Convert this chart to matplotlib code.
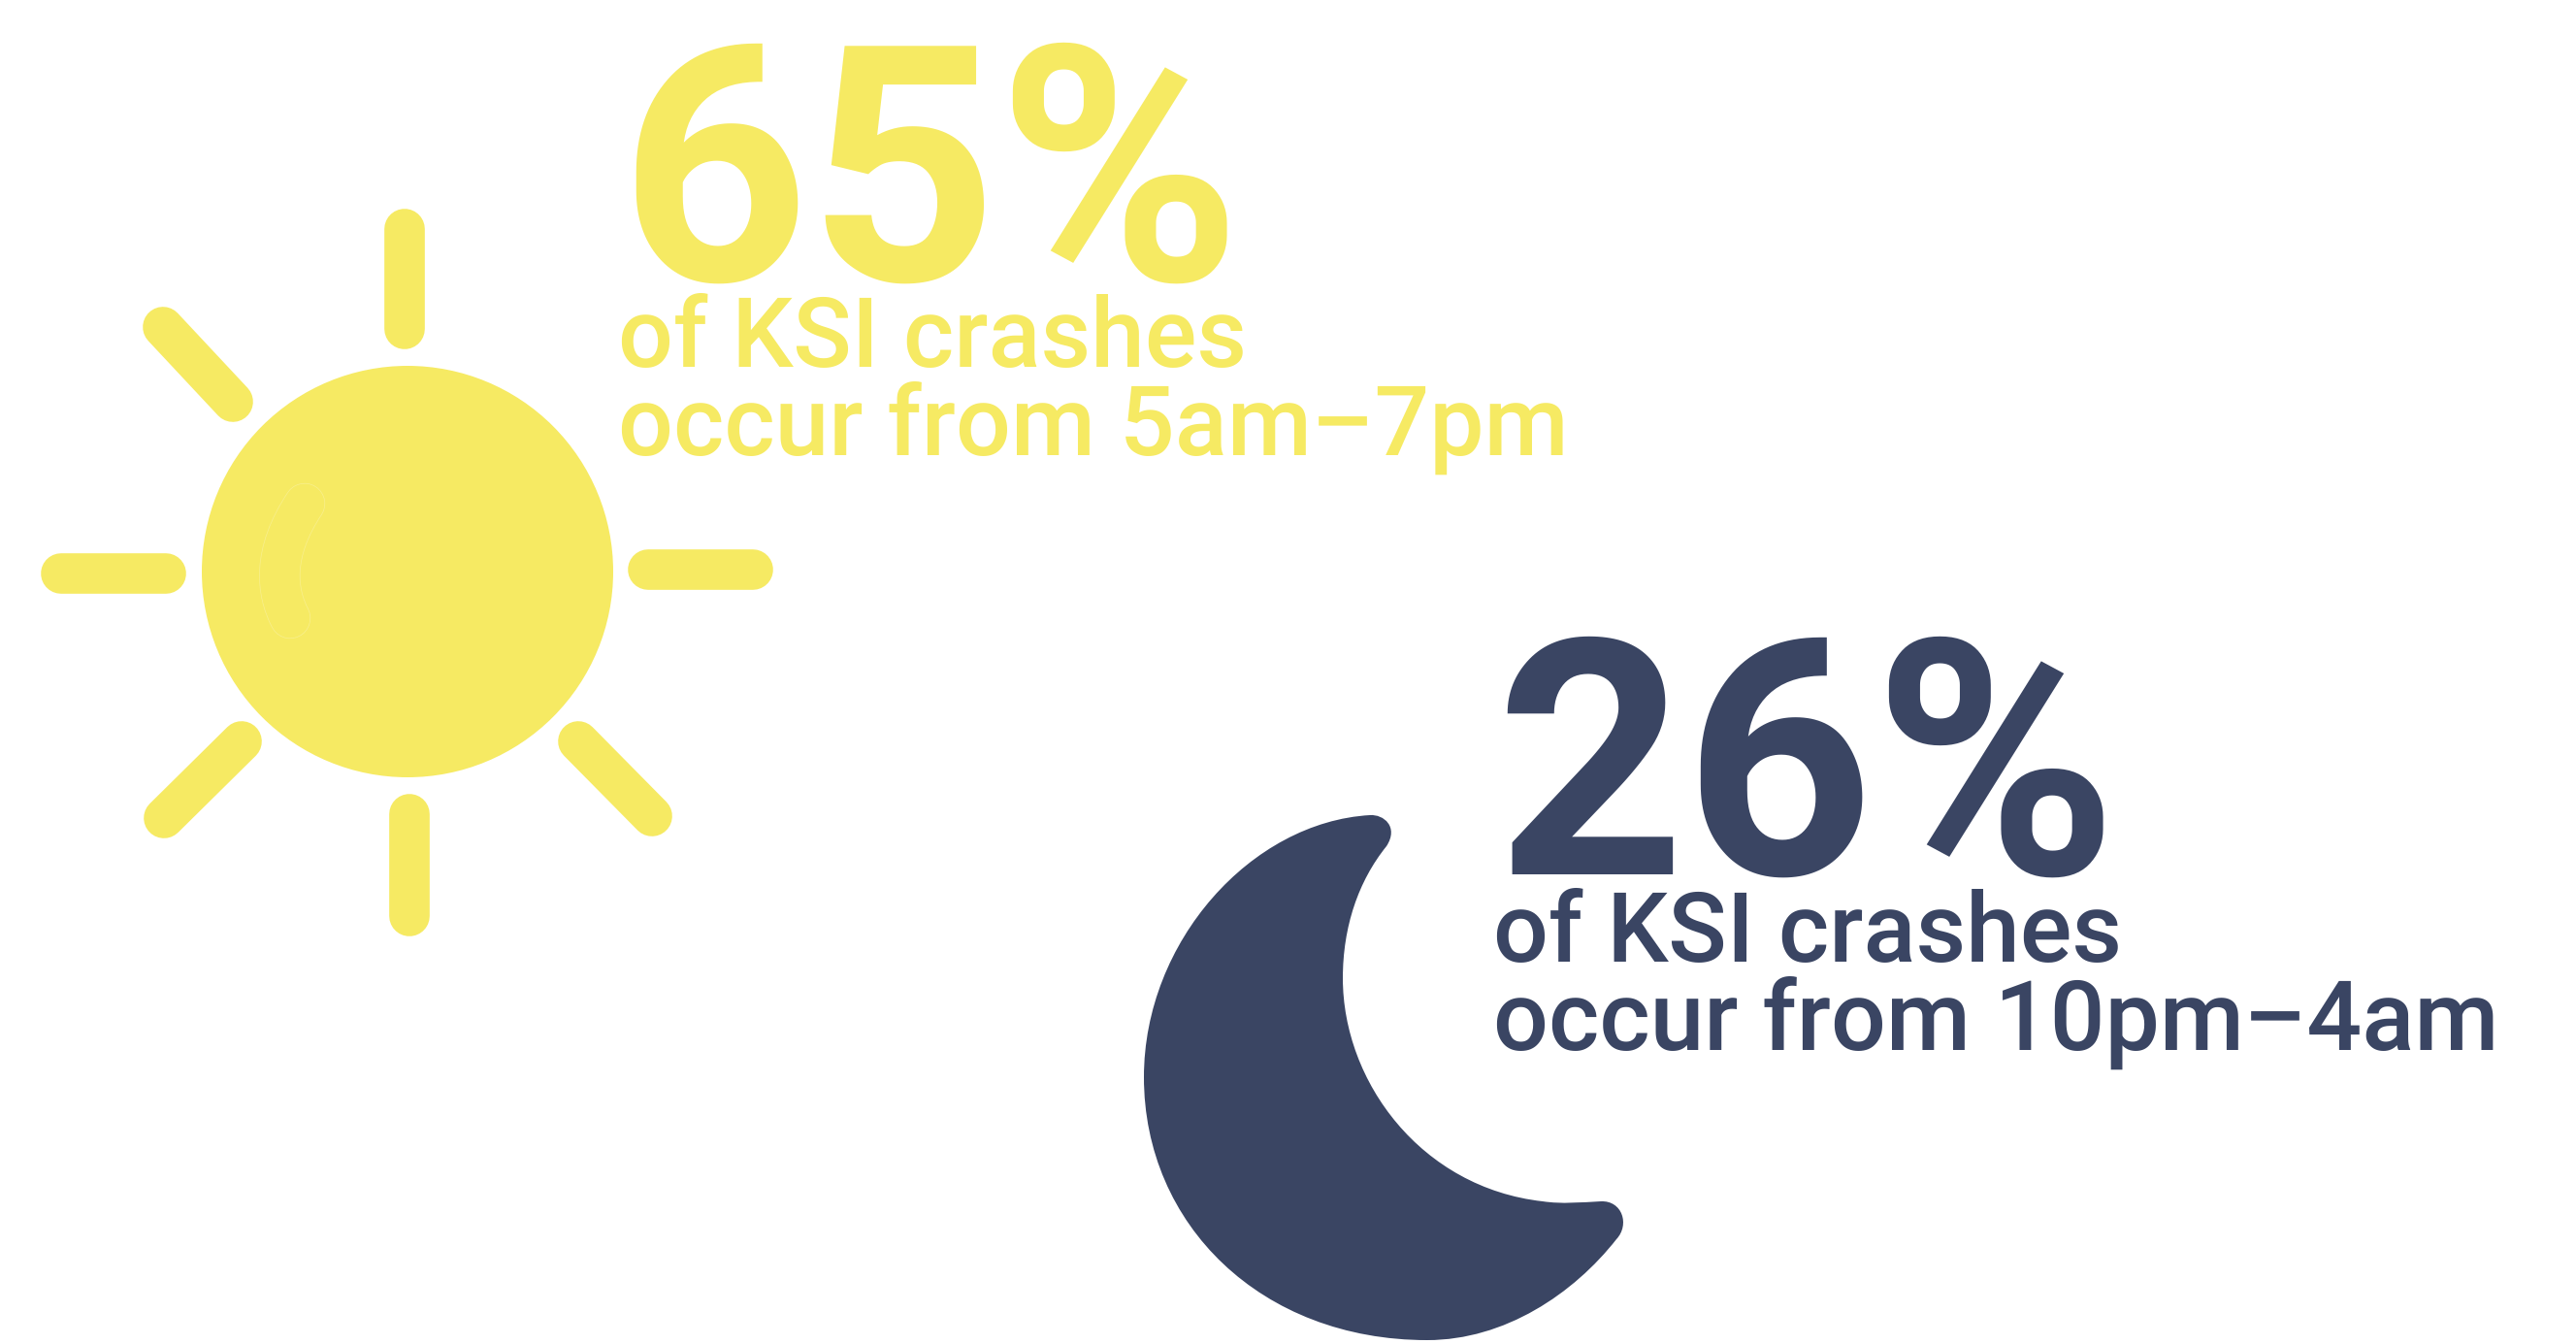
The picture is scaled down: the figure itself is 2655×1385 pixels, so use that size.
import matplotlib
matplotlib.use('Agg')
import matplotlib.pyplot as plt
from matplotlib.path import Path
from matplotlib.patches import Circle, PathPatch

plt.rcParams['text.hinting'] = 'no_hinting'
plt.rcParams['text.hinting_factor'] = 1

# Colours
YELLOW = '#F6EA63'
NAVY = '#3A4563'

# Data
day_share = 65
night_share = 26
day_lines = ['of KSI crashes', 'occur from 5am\u20137pm']
night_lines = ['of KSI crashes', 'occur from 10pm\u20134am']

# Sun rays, pixel coordinates of the icon (x0, y0, x1, y1)
rays = [(417, 236, 417, 339),
        (168, 337, 240, 414),
        (63, 591, 171, 591),
        (668, 587, 776, 587),
        (422, 839, 422, 944),
        (169, 843, 249, 764),
        (596, 764, 672, 841)]

# Moon outline, pixel coordinates of the icon
moon_start = (1412, 840)
moon_curves = [((1426, 839), (1442, 852), (1429, 872)),
               ((1400, 908), (1384, 955), (1384, 1008)),
               ((1384, 1115), (1465, 1224), (1590, 1238)),
               ((1610, 1241), (1630, 1239), (1650, 1238)),
               ((1672, 1237), (1680, 1262), (1666, 1277)),
               ((1622, 1333), (1551, 1381), (1471, 1381)),
               ((1300, 1381), (1179, 1262), (1179, 1110)),
               ((1179, 970), (1290, 847), (1412, 840))]


def add_text(ax, x, y, text, color, size, weight):
    ax.text(x, y, text, color=color, fontsize=size, fontweight=weight,
            family='Roboto', ha='left', va='baseline')


fig = plt.figure(figsize=(26.55, 13.85), dpi=100)
ax = fig.add_axes([0, 0, 1, 1])
ax.set_xlim(0, 2655)
ax.set_ylim(1385, 0)
ax.axis('off')

# Sun
ax.add_patch(Circle((420, 589), 212, color=YELLOW, lw=0))
for x0, y0, x1, y1 in rays:
    ax.plot([x0, x1], [y0, y1], color=YELLOW, lw=30, solid_capstyle='round')

# Faint highlight inside the sun
verts = [(314, 519), (280, 570), (285, 610), (299, 637)]
codes = [Path.MOVETO, Path.CURVE4, Path.CURVE4, Path.CURVE4]
ax.add_patch(PathPatch(Path(verts, codes), fill=False, ec='#F9F08F', lw=30.5, capstyle='round'))
ax.add_patch(PathPatch(Path(verts, codes), fill=False, ec=YELLOW, lw=29.5, capstyle='round'))

# Moon
verts = [moon_start]
codes = [Path.MOVETO]
for curve in moon_curves:
    verts.extend(curve)
    codes.extend([Path.CURVE4] * 3)
ax.add_patch(PathPatch(Path(verts, codes), fc=NAVY, ec='none'))

# Text
add_text(ax, 638, 289, f'{day_share}%', YELLOW, 245, 'bold')
add_text(ax, 637, 378, day_lines[0], YELLOW, 72, 'medium')
add_text(ax, 637, 469, day_lines[1], YELLOW, 72, 'medium')

add_text(ax, 1541, 901, f'{night_share}%', NAVY, 245, 'bold')
add_text(ax, 1539, 991, night_lines[0], NAVY, 72, 'medium')
add_text(ax, 1539, 1082, night_lines[1], NAVY, 72, 'medium')

fig.savefig('out.png', dpi=100)
